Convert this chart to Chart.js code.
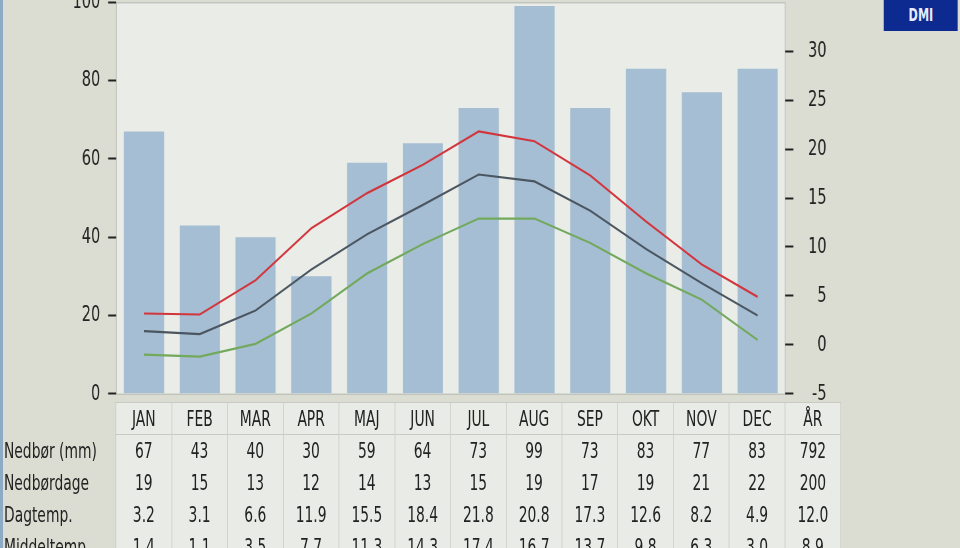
<!DOCTYPE html>
<html>
<head>
<meta charset="utf-8">
<script src="https://cdn.jsdelivr.net/npm/chart.js@4.4.1/dist/chart.umd.min.js"></script>
<style>
  html, body { margin: 0; padding: 0; width: 960px; height: 548px; overflow: hidden; background: #dcddd2; }
  body { position: relative; font-family: 'DejaVu Sans', sans-serif; color: #222; }
  /* alt tegnes i en bredere flade og trykkes sammen vandret, som i originalen */
  #flade { position: absolute; left: 0; top: 0; width: 1454.5px; height: 548px; transform: scaleX(0.66); transform-origin: 0 0; }
  #wrap { position: absolute; left: 0; top: -27px; width: 1454.5px; height: 450px; }
  #strip { position: absolute; left: 0; top: 0; width: 3px; height: 548px; background: #8eaac4; }
  #dmi { position: absolute; left: 1339.4px; top: 0; width: 112px; height: 31px; background: #0c2a8f; color: #e8ecff;
         font: bold 17px 'DejaVu Sans', sans-serif; text-align: center; line-height: 31px; }
  table { position: absolute; left: 0; top: 402px; border-collapse: collapse; table-layout: fixed; font-size: 21px; white-space: nowrap; }
  td { height: 32px; padding: 0; text-align: center; border-left: 1px solid #c8cac3; border-right: 1px solid #c8cac3; background: #e9ebe6; }
  td.lbl { text-align: left; padding-left: 6px; border: none; background: transparent; }
  tr.head td { height: 31px; border: 1px solid #c8cac3; }
  tr.head td.lbl { border: none; background: transparent; }
</style>
</head>
<body>
<div id="strip"></div>
<div id="flade">
  <div id="wrap"><canvas id="klima"></canvas></div>
  <div id="dmi">DMI</div>
  <table id="tabel"></table>
</div>
<script>
// maaneder og vaerdier
var maaneder = ['JAN','FEB','MAR','APR','MAJ','JUN','JUL','AUG','SEP','OKT','NOV','DEC'];
var nedboer = [67, 43, 40, 30, 59, 64, 73, 99, 73, 83, 77, 83];
var nedboerdage = [19, 15, 13, 12, 14, 13, 15, 19, 17, 19, 21, 22];
var dagtemp = [3.2, 3.1, 6.6, 11.9, 15.5, 18.4, 21.8, 20.8, 17.3, 12.6, 8.2, 4.9];
var middeltemp = [1.4, 1.1, 3.5, 7.7, 11.3, 14.3, 17.4, 16.7, 13.7, 9.8, 6.3, 3.0];
// nattemp aflaest fra den groenne kurve
var nattemp = [-1.0, -1.2, 0.1, 3.2, 7.3, 10.3, 12.9, 12.9, 10.4, 7.3, 4.6, 0.5];
// aarstal
var aar = { nedboer: '792', nedboerdage: '200', dagtemp: '12.0', middeltemp: '8.9' };

var k = 0.66; // vandret sammentrykning

// baggrund til plotomraadet
var plotBaggrund = {
  id: 'plotBaggrund',
  beforeDraw: function(chart) {
    var a = chart.chartArea, ctx = chart.ctx;
    ctx.save();
    ctx.fillStyle = '#e9ece7';
    ctx.fillRect(a.left, a.top, a.right - a.left, a.bottom - a.top);
    ctx.strokeStyle = '#c2c5bd';
    ctx.lineWidth = 1.5;
    ctx.strokeRect(a.left + 0.5, a.top + 0.5, a.right - a.left - 1, a.bottom - a.top);
    ctx.restore();
  }
};

var skrift = { family: "'DejaVu Sans', sans-serif", size: 22 };

var ctx = document.getElementById('klima').getContext('2d');
var chart = new Chart(ctx, {
  type: 'bar',
  data: {
    labels: maaneder,
    datasets: [
      { type: 'line', label: 'Dagtemp.', data: dagtemp, yAxisID: 'y2', borderColor: '#d3353d', borderWidth: 2.2, pointRadius: 0, order: 1 },
      { type: 'line', label: 'Middeltemp.', data: middeltemp, yAxisID: 'y2', borderColor: '#4b5661', borderWidth: 2.2, pointRadius: 0, order: 1 },
      { type: 'line', label: 'Nattemp.', data: nattemp, yAxisID: 'y2', borderColor: '#72a95c', borderWidth: 2.2, pointRadius: 0, order: 1 },
      { label: 'Nedbør (mm)', data: nedboer, yAxisID: 'y', backgroundColor: '#a6bed3', barPercentage: 0.72, categoryPercentage: 1, order: 2 }
    ]
  },
  options: {
    responsive: true,
    maintainAspectRatio: false,
    animation: false,
    events: [],
    layout: { padding: { right: 134 / k } },
    plugins: { legend: { display: false }, tooltip: { enabled: false } },
    scales: {
      x: { display: false },
      y: {
        position: 'left', min: 0, max: 100,
        ticks: { stepSize: 20, color: '#222', font: skrift, padding: 12 },
        grid: { drawOnChartArea: false, tickLength: 12, tickColor: '#222', tickWidth: 2 },
        border: { display: false },
        afterFit: function(s) { s.width = 116 / k; }
      },
      y2: {
        position: 'right', min: -5, max: 35,
        ticks: { stepSize: 5, color: '#222', font: skrift, padding: 16, crossAlign: 'far' },
        grid: { drawOnChartArea: false, tickLength: 12, tickColor: '#222', tickWidth: 2 },
        border: { display: false },
        afterBuildTicks: function(s) { s.ticks = s.ticks.filter(function(t) { return t.value < 35; }); },
        afterFit: function(s) { s.width = 41 / k; }
      }
    }
  },
  plugins: [plotBaggrund]
});

// tabel under grafen
var tabel = document.getElementById('tabel');
var cols = '<colgroup><col style="width:' + (116 / k) + 'px">';
for (var i = 0; i < 13; i++) cols += '<col style="width:' + (55.75 / k) + 'px">';
cols += '</colgroup>';
function raekke(navn, vals, total, cls) {
  var h = '<tr' + (cls ? ' class="' + cls + '"' : '') + '><td class="lbl">' + navn + '</td>';
  vals.forEach(function(v) { h += '<td>' + v + '</td>'; });
  return h + '<td>' + total + '</td></tr>';
}
function fmt(a) { return a.map(function(v) { return v.toFixed(1); }); }
tabel.innerHTML = cols +
  raekke('', maaneder, 'ÅR', 'head') +
  raekke('Nedbør (mm)', nedboer, aar.nedboer) +
  raekke('Nedbørdage', nedboerdage, aar.nedboerdage) +
  raekke('Dagtemp.', fmt(dagtemp), aar.dagtemp) +
  raekke('Middeltemp.', fmt(middeltemp), aar.middeltemp);
</script>
</body>
</html>
